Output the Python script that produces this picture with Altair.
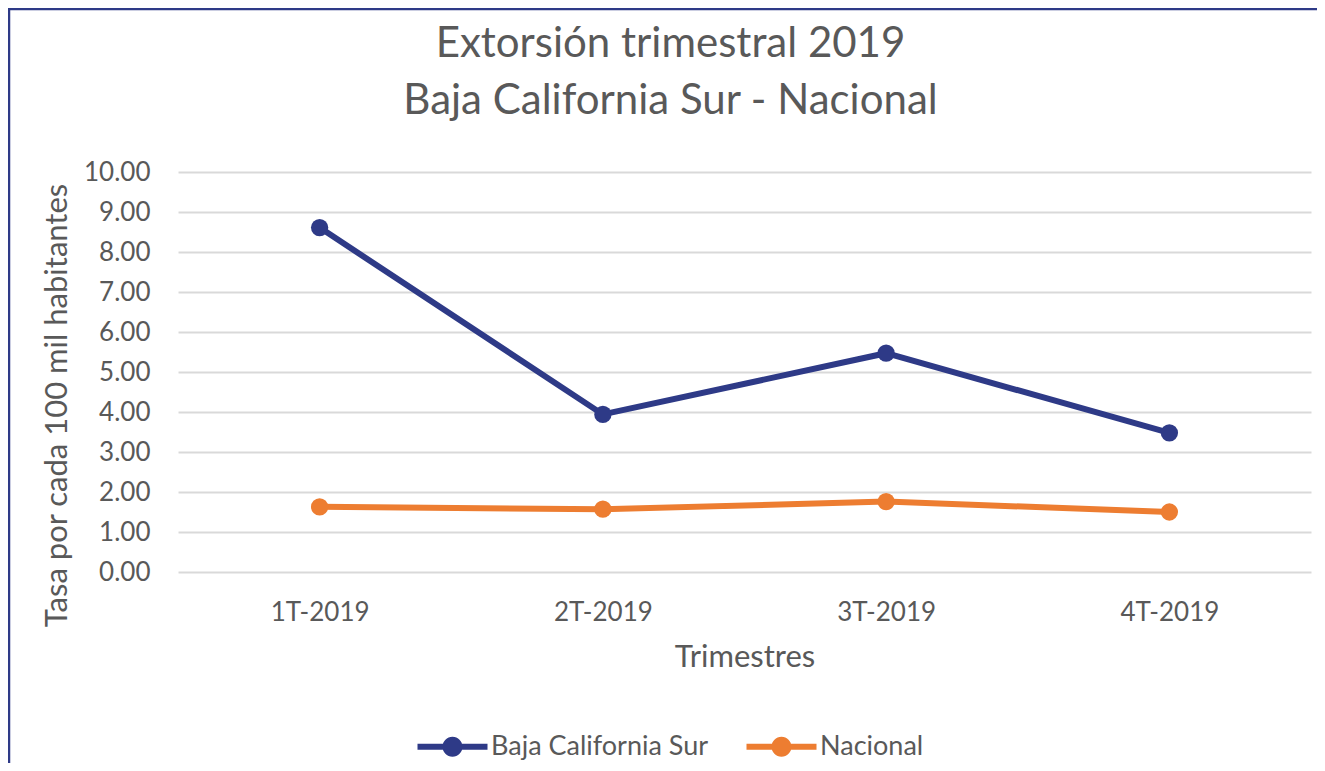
import altair as alt
import pandas as pd

trimestres = ["1T-2019", "2T-2019", "3T-2019", "4T-2019"]
bcs = [8.61, 3.94, 5.47, 3.48]
nacional = [1.63, 1.57, 1.76, 1.50]
series = ["Baja California Sur", "Nacional"]
colors = ["#2E3A87", "#ED7D31"]
y_ticks = [0, 1, 2, 3, 4, 5, 6, 7, 8, 9, 10]

rows = []
for s, vals in zip(series, [bcs, nacional]):
    for t, v in zip(trimestres, vals):
        rows.append({"Trimestre": t, "Serie": s, "Tasa": v})
df = pd.DataFrame(rows)

FONT = "Lato"
TEXT = "#595959"
NAVY = "#2E3A87"

# legend symbol: a thick line with a dot in the middle
sym = ("M-2,-0.17H2V0.17H-2Z "
       "M0.57,0A0.57,0.57,0,1,1,-0.57,0A0.57,0.57,0,1,1,0.57,0Z")

x = alt.X("Trimestre:N", sort=trimestres,
          axis=alt.Axis(title="Trimestres", labelAngle=0, labelFontSize=26,
                        labelFont=FONT, labelColor=TEXT, labelPadding=27,
                        titleFontSize=31, titleFont=FONT, titleColor=TEXT,
                        titleFontWeight="normal", titleY=94,
                        titleBaseline="alphabetic",
                        domain=False, ticks=False, grid=False))
y = alt.Y("Tasa:Q", scale=alt.Scale(domain=[0, 10], nice=False),
          axis=alt.Axis(title="Tasa por cada 100 mil habitantes", values=y_ticks,
                        format=".2f", labelFontSize=26, labelFont=FONT,
                        labelColor=TEXT, labelPadding=28, domain=False, ticks=False,
                        grid=True, gridColor="#D9D9D9", gridWidth=2,
                        titleFontSize=31, titleFont=FONT, titleColor=TEXT,
                        titleFontWeight="normal", titleAngle=-90,
                        titleX=-121, titleY=233, titleAlign="center",
                        titleBaseline="middle"))
legend = alt.Legend(title=None, orient="none", legendX=257, legendY=557,
                    direction="horizontal", symbolType=sym, symbolSize=1225,
                    symbolStrokeWidth=0, symbolOpacity=1, labelOffset=21,
                    labelFontSize=27, labelFont=FONT, labelColor=TEXT,
                    labelLimit=0, columnPadding=37, padding=0)
color = alt.Color("Serie:N", sort=series,
                  scale=alt.Scale(domain=series, range=colors), legend=legend)

lines = alt.Chart(df).mark_line(strokeWidth=6).encode(x=x, y=y, color=color)
points = alt.Chart(df).mark_point(filled=True, opacity=1, size=300).encode(
    x=x, y=y, color=color)

frame_df = pd.DataFrame({"k": [0]})
left_border = alt.Chart(frame_df).mark_rule(color=NAVY, strokeWidth=2.5).encode(
    x=alt.value(-169), y=alt.value(-163), y2=alt.value(600))
top_border = alt.Chart(frame_df).mark_rule(color=NAVY, strokeWidth=2.5).encode(
    x=alt.value(-170), x2=alt.value(1140), y=alt.value(-163))

chart = alt.layer(left_border, top_border, lines, points).properties(
    width=1133, height=400,
    title=alt.Title(["Extorsión trimestral 2019", "Baja California Sur - Nacional"],
                    fontSize=42, font=FONT, color=TEXT, fontWeight="normal",
                    anchor="middle", frame="group", dx=-74, lineHeight=57,
                    baseline="bottom", offset=-157),
    padding={"left": 170, "top": 164, "right": 6, "bottom": 191},
    autosize=alt.AutoSizeParams(type="none"),
).configure_view(stroke=None)

chart.save("out.html", embed_options={"renderer": "svg", "actions": False})
